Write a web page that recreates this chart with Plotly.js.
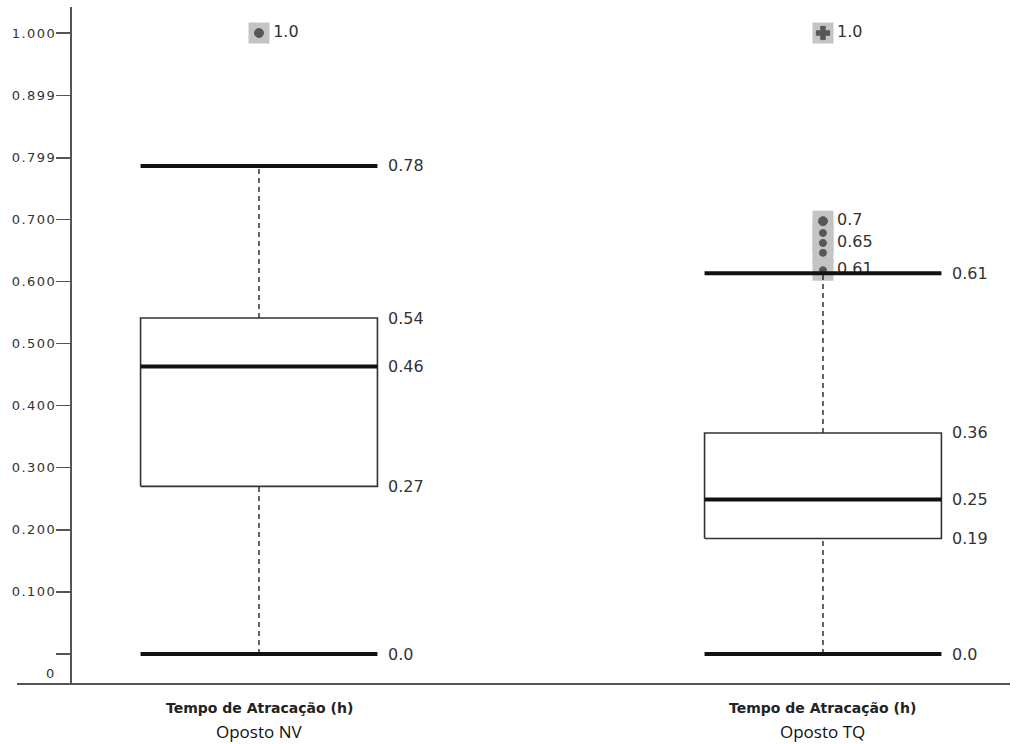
<!DOCTYPE html>
<html>
<head>
<meta charset="utf-8">
<script src="https://cdn.plot.ly/plotly-3.0.1.min.js"></script>
<style>
  html, body { margin: 0; padding: 0; background: #fff; }
  #chart { width: 1023px; height: 744px; }
  .ytick text { letter-spacing: 1.5px; }
</style>
</head>
<body>
<div id="chart"></div>
<script>
// ---------------- DATA ----------------
const categories = ['Oposto NV', 'Oposto TQ'];
const axisLabel = 'Tempo de Atracação (h)';
const lowerWhisker = [0.0, 0.0];
const q1Values = [0.270, 0.186];
const medianValues = [0.463, 0.249];
const q3Values = [0.541, 0.356];
const upperWhisker = [0.786, 0.613];

const lowerLabels = ['0.0', '0.0'];
const q1Labels = ['0.27', '0.19'];
const medianLabels = ['0.46', '0.25'];
const q3Labels = ['0.54', '0.36'];
const upperLabels = ['0.78', '0.61'];

const outlierCategory = [0, 1, 1, 1, 1, 1, 1];
const outlierValues = [1.0, 1.0, 0.697, 0.678, 0.662, 0.646, 0.618];
const outlierLabels = ['1.0', '1.0', '0.7', '', '0.65', '', '0.61'];

const yTickValues = [0, 0.1, 0.2, 0.3, 0.4, 0.5, 0.6, 0.7, 0.799, 0.899, 1.0];
const yTickLabels = ['', '0.100', '0.200', '0.300', '0.400', '0.500', '0.600', '0.700', '0.799', '0.899', '1.000'];
const zeroLabel = '0';

// ---------------- STYLE ----------------
const BOX_HALF = 0.21;
const outlierSymbols = ['circle', 'cross', 'circle', 'circle', 'circle', 'circle', 'circle'];
const outlierSizes = [9, 11, 9, 7, 7, 7, 7];
const DARK = '#111';
const TEXT = '#333';
const valueFont = { family: 'DejaVu Sans', size: 16, color: TEXT };

const catIdx = categories.map((c, i) => i);

function segs(getY0, getY1, xl, xr) {
  const xs = [], ys = [];
  catIdx.forEach(i => {
    xs.push(xl(i), xr(i), null);
    ys.push(getY0(i), getY1(i), null);
  });
  return { x: xs, y: ys };
}

const traces = [];

// gray highlight squares behind outliers + labels
traces.push({
  type: 'scatter', mode: 'markers+text',
  x: outlierCategory, y: outlierValues,
  text: outlierLabels, textposition: 'middle right',
  textfont: valueFont,
  marker: { symbol: 'square', size: 21, color: '#c4c4c4' },
  hoverinfo: 'skip', showlegend: false, cliponaxis: false
});
// outlier markers
traces.push({
  type: 'scatter', mode: 'markers',
  x: outlierCategory, y: outlierValues,
  marker: { symbol: outlierSymbols, size: outlierSizes, color: '#2a2a2a', line: { color: '#2a2a2a', width: 1 } },
  showlegend: false, cliponaxis: false
});

// dashed whiskers
(function () {
  const xs = [], ys = [];
  catIdx.forEach(i => {
    xs.push(i, i, null, i, i, null);
    ys.push(q3Values[i], upperWhisker[i], null, lowerWhisker[i], q1Values[i], null);
  });
  traces.push({
    type: 'scatter', mode: 'lines', x: xs, y: ys,
    line: { color: '#111', width: 1.3, dash: '5px,4px' },
    hoverinfo: 'skip', showlegend: false
  });
})();

// boxes
(function () {
  const xs = [], ys = [];
  catIdx.forEach(i => {
    const l = i - BOX_HALF, r = i + BOX_HALF;
    xs.push(l, r, r, l, l, null);
    ys.push(q1Values[i], q1Values[i], q3Values[i], q3Values[i], q1Values[i], null);
  });
  traces.push({
    type: 'scatter', mode: 'lines', x: xs, y: ys,
    line: { color: '#333', width: 1.6 },
    hoverinfo: 'skip', showlegend: false
  });
})();

// medians
const med = segs(i => medianValues[i], i => medianValues[i], i => i - BOX_HALF, i => i + BOX_HALF);
traces.push({ type: 'scatter', mode: 'lines', x: med.x, y: med.y,
  line: { color: DARK, width: 4 }, hoverinfo: 'skip', showlegend: false });

// caps
const capU = segs(i => upperWhisker[i], i => upperWhisker[i], i => i - BOX_HALF, i => i + BOX_HALF);
const capL = segs(i => lowerWhisker[i], i => lowerWhisker[i], i => i - BOX_HALF, i => i + BOX_HALF);
traces.push({ type: 'scatter', mode: 'lines', x: capU.x.concat(capL.x), y: capU.y.concat(capL.y),
  line: { color: DARK, width: 4 }, hoverinfo: 'skip', showlegend: false, cliponaxis: false });

// annotations for box values
const annotations = [];
catIdx.forEach(i => {
  [[upperWhisker, upperLabels], [q3Values, q3Labels], [medianValues, medianLabels],
   [q1Values, q1Labels], [lowerWhisker, lowerLabels]].forEach(([vals, labs]) => {
    annotations.push({
      x: i + BOX_HALF, y: vals[i], xref: 'x', yref: 'y',
      text: labs[i], showarrow: false, xanchor: 'left', yanchor: 'middle',
      xshift: 9, font: valueFont
    });
  });
  annotations.push({
    x: i, y: 0, xref: 'x', yref: 'paper', text: '<b>' + axisLabel + '</b>',
    showarrow: false, xanchor: 'center', yanchor: 'middle', yshift: -25,
    font: { family: 'DejaVu Sans', size: 14, color: '#222' }
  });
  annotations.push({
    x: i, y: 0, xref: 'x', yref: 'paper', text: categories[i],
    showarrow: false, xanchor: 'center', yanchor: 'middle', yshift: -48,
    font: { family: 'Open Sans', size: 17, color: '#111' }
  });
});
annotations.push({
  x: 0.0332, y: -0.0306, xref: 'paper', yref: 'y', text: zeroLabel,
  showarrow: false, xanchor: 'center', yanchor: 'middle',
  font: { family: 'DejaVu Sans', size: 13, color: TEXT }
});

const layout = {
  width: 1023, height: 744,
  margin: { l: 17, r: 13, t: 7, b: 61 },
  paper_bgcolor: '#fff', plot_bgcolor: '#fff',
  showlegend: false,
  xaxis: {
    range: [-0.4291, 1.3316], domain: [0, 1],
    showline: true, linecolor: '#555', linewidth: 2,
    showgrid: false, zeroline: false, showticklabels: false, ticks: '',
    fixedrange: true
  },
  yaxis: {
    range: [-0.0467, 1.0419],
    anchor: 'free', position: 0.05438,
    showline: true, linecolor: '#555', linewidth: 2,
    showgrid: false, zeroline: false,
    tickmode: 'array', tickvals: yTickValues, ticktext: yTickLabels,
    ticks: 'outside', ticklen: 14, tickwidth: 1.5, tickcolor: '#555',
    ticklabelstandoff: -3,
    tickfont: { family: 'DejaVu Sans', size: 13, color: TEXT },
    fixedrange: true
  },
  annotations: annotations
};

Plotly.newPlot('chart', traces, layout, { staticPlot: true, displayModeBar: false });
</script>
</body>
</html>
